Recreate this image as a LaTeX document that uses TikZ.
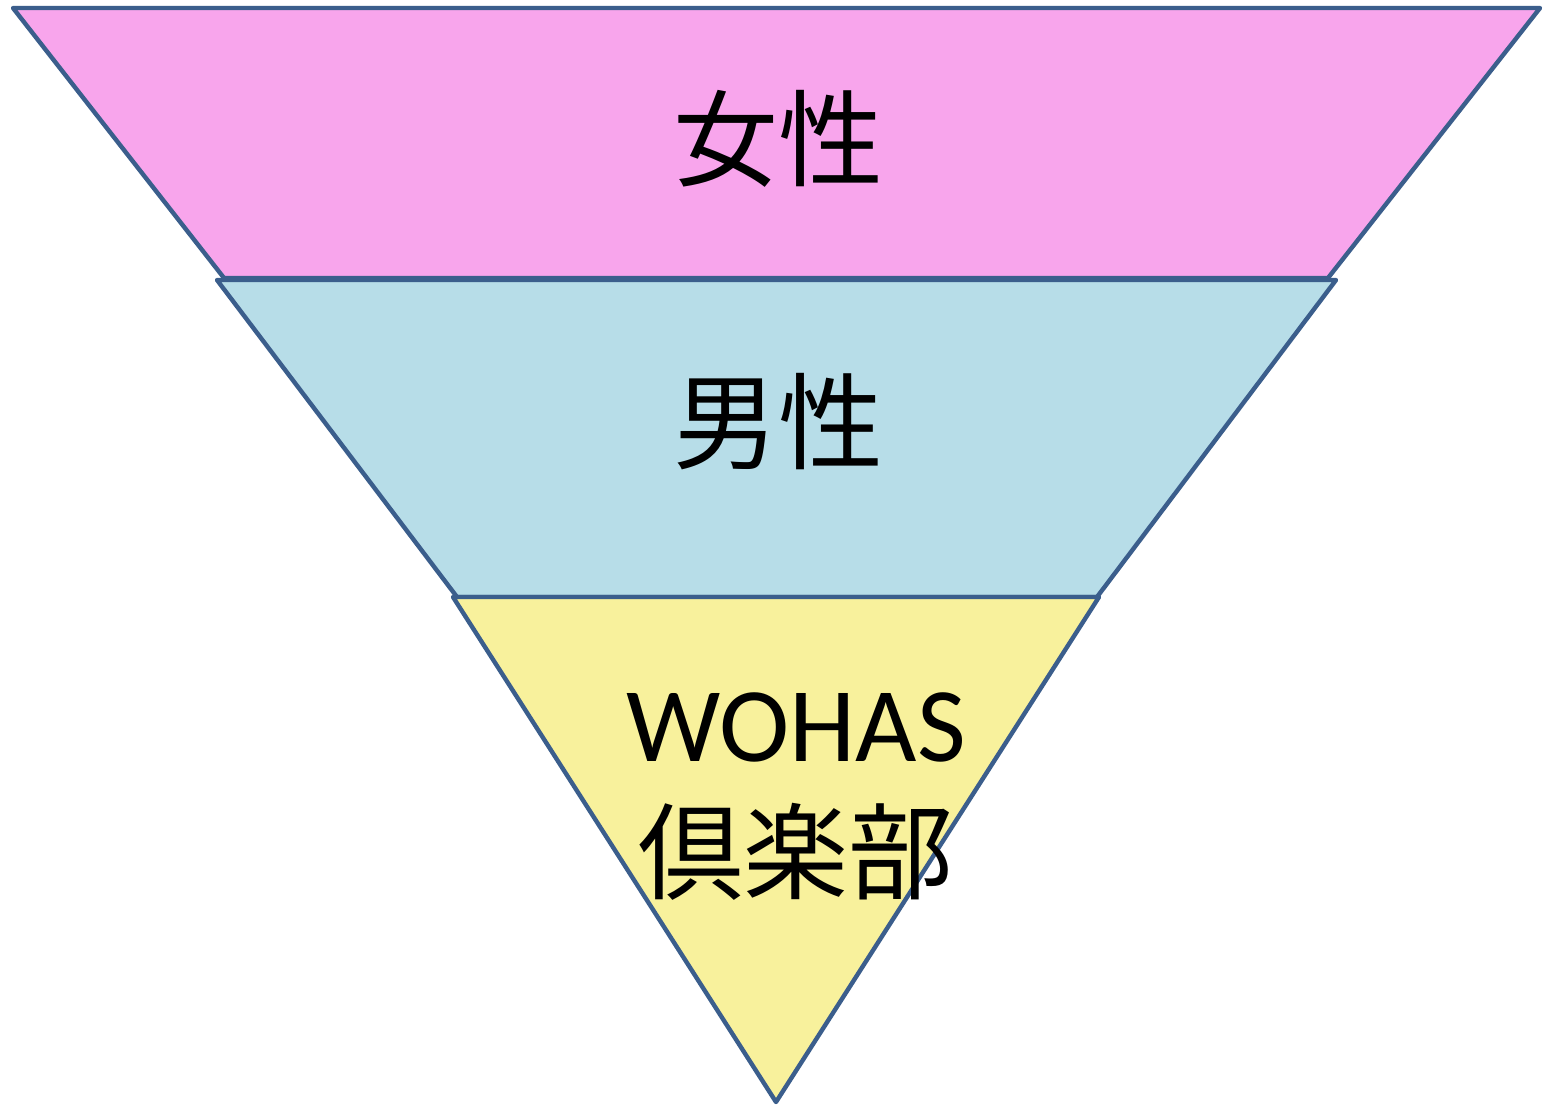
\documentclass[tikz,border=0pt]{standalone}
\usepackage{fontspec}
\newfontfamily\cjk{Noto Sans CJK JP}
\newfontfamily\lat{Carlito}
\definecolor{edge}{HTML}{3B5E8C}
\definecolor{pinkfill}{HTML}{F8A5EC}
\definecolor{bluefill}{HTML}{B7DDE8}
\definecolor{yellowfill}{HTML}{F8F19C}
\tikzset{
  layer/.style={draw=edge, line width=2.2pt, line join=round},
  label/.style={font=\cjk\fontsize{52.5}{65}\selectfont, inner sep=0pt}
}
\begin{document}
\begin{tikzpicture}[x=0.5pt,y=-0.5pt]
\useasboundingbox[fill=white] (0,0) rectangle (1545,1104);
\fill[pinkfill] (13,8) -- (1540,8) -- (1328,278) -- (224,278) -- cycle;
\draw[layer] (13,8) -- (1540,8) -- (1328,278) -- (224,278) -- cycle;
\fill[bluefill] (217,280) -- (1336,280) -- (1097,597) -- (457,597) -- cycle;
\draw[layer] (217,280) -- (1336,280) -- (1097,597) -- (457,597) -- cycle;
\fill[yellowfill] (453,597) -- (1099,597) -- (776,1102) -- cycle;
\draw[layer] (453,597) -- (1099,597) -- (776,1102) -- cycle;
\node[label] (women) at (778,139) {女性};
\node[label] (men) at (778,422) {男性};
\node[label, align=center] (club) at (796,797) {{\lat\fontsize{53}{65}\selectfont WOHAS}\\倶楽部};
\end{tikzpicture}
\end{document}
